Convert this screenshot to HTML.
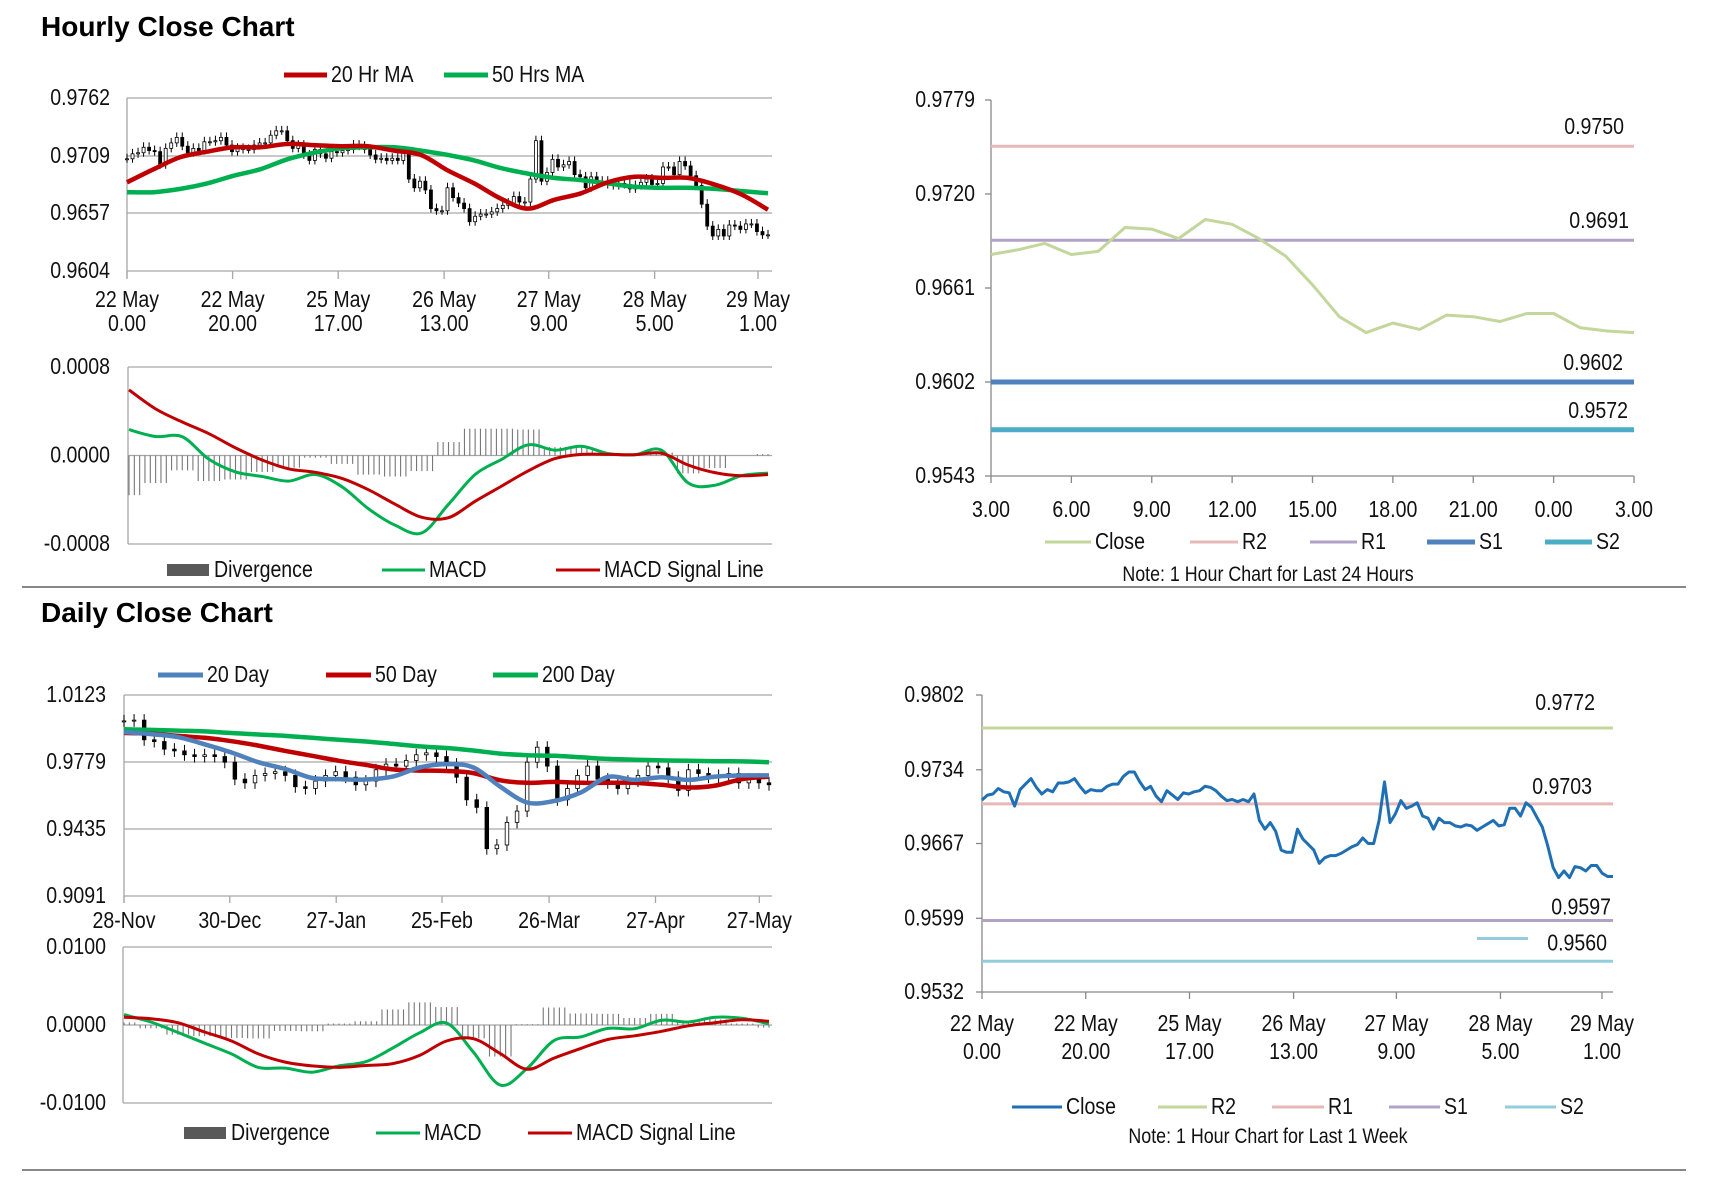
<!DOCTYPE html>
<html><head><meta charset="utf-8">
<style>
html,body{margin:0;padding:0;background:#fff;}
svg{display:block;font-family:"Liberation Sans Narrow","Liberation Sans",sans-serif;}
.t{font-size:23px;fill:#111;transform-box:fill-box;transform:scaleX(0.85);}
.t[text-anchor="start"]{transform-origin:left center;}
.t[text-anchor="middle"]{transform-origin:center center;}
.t[text-anchor="end"]{transform-origin:right center;}
.h{font-family:"Liberation Sans",sans-serif;font-weight:bold;font-size:28px;fill:#000;}
</style></head>
<body>
<svg id="s" width="1711" height="1178" viewBox="0 0 1711 1178" xmlns="http://www.w3.org/2000/svg">
<text class="h" x="41" y="36">Hourly Close Chart</text>
<text class="h" x="41" y="622">Daily Close Chart</text>
<line x1="22" y1="587" x2="1686" y2="587" stroke="#888" stroke-width="2"/>
<line x1="22" y1="1170" x2="1686" y2="1170" stroke="#888" stroke-width="2"/>
</svg>
<script>
// ===== Data =====
const weekClose=[.97065,.9711,.9712,.9717,.9714,.9713,.9701,.9716,.9721,.9726,.9718,.9712,.9716,.9714,.9722,.9722,.9723,.9726,.9719,.9713,.9716,.9715,.9715,.9719,.9721,.9721,.9728,.9732,.9732,.9723,.9716,.9719,.9710,.9705,.9715,.9711,.9707,.9713,.9712,.9714,.9715,.9719,.9718,.9715,.9710,.9706,.9707,.9705,.9707,.9705,.9712,.9688,.9680,.9686,.9678,.9661,.9659,.9659,.9680,.9671,.9666,.9661,.9649,.9654,.9656,.9656,.9658,.9661,.9664,.9666,.9672,.9667,.9667,.9688,.9723,.9686,.9694,.9706,.9699,.9701,.9704,.9692,.9690,.9680,.9690,.9686,.9686,.9683,.9682,.9684,.9683,.9679,.9682,.9685,.9688,.9683,.9684,.9699,.9699,.9692,.9704,.9700,.9691,.9682,.9665,.9645,.9636,.9642,.9636,.9646,.9645,.9642,.9647,.9647,.9640,.9637,.9637];
const weekTickLabels1=["22 May","22 May","25 May","26 May","27 May","28 May","29 May"];
const weekTickLabels2=["0.00","20.00","17.00","13.00","9.00","5.00","1.00"];
const weekTickFrac=[0,0.1645,0.329,0.494,0.657,0.822,0.983];
const weekYTicks=[0.9802,0.9734,0.9667,0.9599,0.9532];
const weekLevels=[0.9772,0.9703,0.9597,0.9560];
const weekLevelNames=["R2","R1","S1","S2"];

const ma20h=[.9685,.9697,.9708,.9713,.9717,.9717,.9720,.9719,.9718,.9718,.9714,.9710,.9696,.9684,.9670,.9661,.9669,.9675,.9685,.9690,.9689,.9689,.9683,.9674,.9660];
const ma50h=[.9676,.9676,.9679,.9684,.9691,.9697,.9706,.9712,.9716,.9717,.9717,.9714,.9710,.9705,.9698,.9693,.9689,.9687,.9684,.9681,.9680,.9680,.9679,.9677,.9675];
const hourYTicks=[0.9762,0.9709,0.9657,0.9604];
const macdH=[.000234,.000172,.000169,-.000034,-.000148,-.00019,-.000231,-.000172,-.000283,-.000483,-.000631,-.0007,-.000441,-.000172,-.000034,.000097,.000048,.000083,.000017,.000007,.000048,-.000248,-.000269,-.000183,-.000159];
const signalH=[.000593,.000421,.000303,.000197,.000069,-.000041,-.000121,-.000152,-.000207,-.00031,-.000441,-.000559,-.000562,-.000414,-.000276,-.000138,-.000028,.00001,.00001,.000007,.000021,-.000086,-.000155,-.000183,-.000172];
const macdHTicks=[0.0008,0,-0.0008];
const macdHTickLabels=["0.0008","0.0000","-0.0008"];

const dayHours=["3.00","6.00","9.00","12.00","15.00","18.00","21.00","0.00","3.00"];
const dayClose=[.9682,.9685,.9689,.9682,.9684,.9699,.9698,.9692,.9704,.9701,.9692,.9681,.9663,.9643,.9633,.9639,.9635,.9644,.9643,.9640,.9645,.9645,.9636,.9634,.9633];
const dayYTicks=[0.9779,0.9720,0.9661,0.9602,0.9543];
const dayLevels=[0.9750,0.9691,0.9602,0.9572];

const dailyClose=[.9990,.9994,.9893,.9884,.9845,.9836,.9816,.9807,.9816,.9807,.9778,.9691,.9672,.9710,.9720,.9729,.9710,.9652,.9643,.9681,.9710,.9729,.9701,.9662,.9681,.9739,.9768,.9758,.9787,.9816,.9826,.9807,.9768,.9701,.9585,.9546,.9334,.9353,.9469,.9527,.9778,.9855,.9758,.9585,.9643,.9710,.9758,.9691,.9672,.9643,.9681,.9710,.9758,.9749,.9701,.9633,.9739,.9720,.9701,.9710,.9720,.9672,.9691,.9672,.9662];
const ma20d=[.9932,.9922,.9907,.9870,.9828,.9778,.9743,.9697,.9691,.9689,.9704,.9751,.9768,.9751,.9652,.9571,.9579,.9623,.9702,.9687,.9701,.9687,.9704,.9710,.9710];
const ma50d=[.9928,.9924,.9913,.9903,.9886,.9863,.9836,.9811,.9785,.9764,.9741,.9735,.9733,.9722,.9685,.9672,.9677,.9672,.9672,.9672,.9662,.9648,.9658,.9691,.9704];
const ma200d=[.9947,.9944,.9940,.9936,.9928,.9920,.9913,.9903,.9893,.9884,.9872,.9859,.9851,.9838,.9822,.9814,.9811,.9803,.9795,.9791,.9787,.9785,.9783,.9782,.9778];
const dailyYTicks=[1.0123,0.9779,0.9435,0.9091];
const dailyXLabels=["28-Nov","30-Dec","27-Jan","25-Feb","26-Mar","27-Apr","27-May"];
const dailyTickFrac=[0,0.164,0.329,0.493,0.659,0.824,0.985];
const macdD=[.00133,.00038,-.00095,-.00233,-.00371,-.00543,-.00552,-.00605,-.00524,-.00471,-.00295,-.001,.00024,-.00348,-.00771,-.00557,-.002,-.00152,-.00043,-.00048,.00062,.00038,.001,.00086,.00014];
const signalD=[.001,.00081,.00029,-.0009,-.00205,-.00371,-.00476,-.00524,-.00543,-.00519,-.00495,-.0039,-.00205,-.00176,-.00367,-.00567,-.00424,-.003,-.00186,-.00138,-.00081,-.0001,.00029,.00067,.00048];
const macdDTicks=[0.01,0,-0.01];
const macdDTickLabels=["0.0100","0.0000","-0.0100"];

// ===== Helpers =====
const S=document.getElementById('s');
const NS="http://www.w3.org/2000/svg";
function mk(tag,attrs,parent){const e=document.createElementNS(NS,tag);for(const k in attrs)e.setAttribute(k,attrs[k]);(parent||S).appendChild(e);return e;}
function lin(d0,d1,r0,r1){return v=>r0+(v-d0)/(d1-d0)*(r1-r0);}
function txt(x,y,s,anchor,size,parent){const t=mk('text',{x:x,y:y,'text-anchor':anchor||'start',class:'t'},parent);if(size)t.style.fontSize=size+'px';t.textContent=s;return t;}
function grp(){return mk('g',{});}
function smoothPath(arr,xf,yf){
  const p=arr.map((v,i)=>[xf(i),yf(v)]);
  let d='M'+p[0][0].toFixed(1)+','+p[0][1].toFixed(1);
  for(let i=0;i<p.length-1;i++){
    const p0=p[i-1]||p[i],p1=p[i],p2=p[i+1],p3=p[i+2]||p2;
    const c1=[p1[0]+(p2[0]-p0[0])/6,p1[1]+(p2[1]-p0[1])/6];
    const c2=[p2[0]-(p3[0]-p1[0])/6,p2[1]-(p3[1]-p1[1])/6];
    d+=' C'+c1[0].toFixed(1)+','+c1[1].toFixed(1)+' '+c2[0].toFixed(1)+','+c2[1].toFixed(1)+' '+p2[0].toFixed(1)+','+p2[1].toFixed(1);
  }
  return d;
}
function pathFrom(arr,xf,yf){return arr.map((v,i)=>(i?'L':'M')+xf(i).toFixed(1)+','+yf(v).toFixed(1)).join(' ');}
function legendLine(g,x1,x2,y,color,w,label){
  const l=mk('line',{x1:x1,y1:y,x2:x2,y2:y,stroke:color,'stroke-width':w},g);
  
  
  const t=txt(x2+4,y+7,label,'start',null,g);
  
  
}

// ===== Hourly candle chart =====
(function(){
  const g=grp();
  
  
  const L=127,R=772,x0=127,x1=768;
  const y=lin(0.9762,0.9604,98,271);
  hourYTicks.forEach(v=>{
    const gl=mk('line',{x1:L,x2:R,y1:y(v),y2:y(v),stroke:'#a6a6a6','stroke-width':1.3},g);
    
    
    const t=txt(110,y(v)+7,v.toFixed(4),'end',null,g);
    
    
  });
  mk('line',{x1:L,x2:L,y1:98,y2:278,stroke:'#a6a6a6','stroke-width':1.3},g);
  const n=weekClose.length;
  const xi=lin(0,n-1,x0,x1);
  weekTickFrac.forEach((f,i)=>{
    const tx=127+f*(758-127)/0.983;
    mk('line',{x1:tx,x2:tx,y1:271,y2:279,stroke:'#a6a6a6','stroke-width':1.3},g);
    const a=txt(tx,307,weekTickLabels1[i],'middle',null,g);
    
    
    const b=txt(tx,331,weekTickLabels2[i],'middle',null,g);
    
    
  });
  weekClose.forEach((c,i)=>{
    const o=i?weekClose[i-1]:c;
    const top=y(Math.max(o,c)),bot=y(Math.min(o,c));
    const cx=xi(i);
    const w=mk('line',{x1:cx,x2:cx,y1:top-5,y2:bot+4,stroke:'#000','stroke-width':1},g);
    
    
    const r=mk('rect',{x:cx-1.5,y:top,width:3,height:Math.max(1,bot-top),fill:c<o?'#000':'#fff',stroke:'#000','stroke-width':0.8},g);
    
    
  });
  const mx=lin(0,ma20h.length-1,x0,x1);
  const p1=mk('path',{d:smoothPath(ma50h,mx,y),fill:'none',stroke:'#00b050','stroke-width':4.5,'stroke-linejoin':'round'},g);
  
  
  const p2=mk('path',{d:smoothPath(ma20h,mx,y),fill:'none',stroke:'#c00000','stroke-width':4.5,'stroke-linejoin':'round'},g);
  
  
  legendLine(g,284,327,75,'#c00000',5,'20 Hr MA');
  legendLine(g,444,488,75,'#00b050',5,'50 Hrs MA');
})();

// ===== MACD generic =====
function macdChart(name,macd,sig,ticks,labels,top,bot,L,R,x1,labX,legY,leg){
  const g=grp();
  
  
  const y=lin(ticks[0],ticks[2],top,bot);
  ticks.forEach((v,i)=>{
    if(i!==1){const gl=mk('line',{x1:L,x2:R,y1:y(v),y2:y(v),stroke:'#a6a6a6','stroke-width':1.3},g);
    
    }
    const t=txt(labX,y(v)+7,labels[i],'end',null,g);
    
    
  });
  mk('line',{x1:L,x2:L,y1:top,y2:bot,stroke:'#a6a6a6','stroke-width':1.3},g);
  mk('line',{x1:L,x2:R,y1:y(0),y2:y(0),stroke:'#a6a6a6','stroke-width':1.3},g);
  const x=lin(0,macd.length-1,L+1,x1);
  const step=(x1-L)/(macd.length-1);
  macd.forEach((m,i)=>{
    const d=m-sig[i];
    for(let k=-2;k<=2;k++){
      const bx=x(i)+k*step/5;
      if(bx<L+1||bx>x1)continue;
      const b=mk('line',{x1:bx,x2:bx,y1:y(0),y2:y(d),stroke:'#777','stroke-width':1.1},g);
      
      
    }
  });
  const pm=mk('path',{d:smoothPath(macd,x,y),fill:'none',stroke:'#00b050','stroke-width':3,'stroke-linejoin':'round'},g);
  
  
  const ps=mk('path',{d:smoothPath(sig,x,y),fill:'none',stroke:'#c00000','stroke-width':3,'stroke-linejoin':'round'},g);
  
  
  const box=mk('rect',{x:leg[0],y:legY-6,width:leg[1]-leg[0],height:12,fill:'#595959'},g);
  
  
  const t=txt(leg[1]+5,legY+7,'Divergence','start',null,g);
  
  
  legendLine(g,leg[2],leg[3],legY,'#00b050',3,'MACD');
  legendLine(g,leg[4],leg[5],legY,'#c00000',3,'MACD Signal Line');
}
macdChart('hourly-macd-chart',macdH,signalH,macdHTicks,macdHTickLabels,367,544,128,772,768,110,570,[167,209,382,425,556,600]);
macdChart('daily-macd-chart',macdD,signalD,macdDTicks,macdDTickLabels,947,1103,123,772,769,106,1133,[184,226,376,420,528,572]);

// ===== Daily candle chart =====
(function(){
  const g=grp();
  
  
  const L=124,R=772,x0=124,x1=769;
  const y=lin(1.0123,0.9091,695,896);
  dailyYTicks.forEach(v=>{
    const gl=mk('line',{x1:L,x2:R,y1:y(v),y2:y(v),stroke:'#a6a6a6','stroke-width':1.3},g);
    
    
    const t=txt(106,y(v)+7,v.toFixed(4),'end',null,g);
    
    
  });
  mk('line',{x1:L,x2:L,y1:695,y2:903,stroke:'#a6a6a6','stroke-width':1.3},g);
  dailyTickFrac.forEach((f,i)=>{
    const tx=x0+f*(x1-x0);
    mk('line',{x1:tx,x2:tx,y1:896,y2:903,stroke:'#a6a6a6','stroke-width':1.3},g);
    const a=txt(tx,928,dailyXLabels[i],'middle',null,g);
    
    
  });
  const xi=lin(0,dailyClose.length-1,x0,x1);
  dailyClose.forEach((c,i)=>{
    const o=i?dailyClose[i-1]:c;
    const top=y(Math.max(o,c)),bot=y(Math.min(o,c));
    const cx=xi(i);
    const w=mk('line',{x1:cx,x2:cx,y1:top-6,y2:bot+6,stroke:'#000','stroke-width':1},g);
    
    
    const r=mk('rect',{x:cx-1.8,y:top,width:3.6,height:Math.max(1,bot-top),fill:c<o?'#000':'#fff',stroke:'#000','stroke-width':0.8},g);
    
    
  });
  const mx=lin(0,ma20d.length-1,x0,x1);
  const a=mk('path',{d:smoothPath(ma200d,mx,y),fill:'none',stroke:'#00b050','stroke-width':4.5,'stroke-linejoin':'round'},g);
  
  
  const b=mk('path',{d:smoothPath(ma50d,mx,y),fill:'none',stroke:'#c00000','stroke-width':4.5,'stroke-linejoin':'round'},g);
  
  
  const c=mk('path',{d:smoothPath(ma20d,mx,y),fill:'none',stroke:'#4f81bd','stroke-width':4.5,'stroke-linejoin':'round'},g);
  
  
  legendLine(g,158,203,675,'#4f81bd',5,'20 Day');
  legendLine(g,326,371,675,'#c00000',5,'50 Day');
  legendLine(g,493,538,675,'#00b050',5,'200 Day');
})();

// ===== 24h pivot chart =====
(function(){
  const g=grp();
  
  
  const L=991,R=1634;
  const y=lin(0.9779,0.9543,100,476);
  mk('line',{x1:L,x2:L,y1:100,y2:476,stroke:'#888','stroke-width':1.3},g);
  mk('line',{x1:L,x2:R,y1:476,y2:476,stroke:'#888','stroke-width':1.3},g);
  dayYTicks.forEach(v=>{
    mk('line',{x1:L-6,x2:L,y1:y(v),y2:y(v),stroke:'#888','stroke-width':1.3},g);
    const t=txt(975,y(v)+7,v.toFixed(4),'end',null,g);
    
    
  });
  const x=lin(0,dayClose.length-1,L,R);
  dayHours.forEach((h,i)=>{
    const tx=x(i*3);
    mk('line',{x1:tx,x2:tx,y1:476,y2:483,stroke:'#888','stroke-width':1.3},g);
    const t=txt(tx,517,h,'middle',null,g);
    
    
  });
  const cols=['#e6b9b8','#b3a2c7','#4f81bd','#4bacc6'];
  const ws=[3,3,5,5];
  const names=['r2','r1','s1','s2'];
  const labR=[1624,1629,1623,1628];
  dayLevels.forEach((v,i)=>{
    const l=mk('line',{x1:L,x2:R,y1:y(v),y2:y(v),stroke:cols[i],'stroke-width':ws[i]},g);
    
    
    const t=txt(labR[i],y(v)-12,v.toFixed(4),'end',null,g);
    
    
  });
  const p=mk('path',{d:pathFrom(dayClose,x,y),fill:'none',stroke:'#c3d69b','stroke-width':3,'stroke-linejoin':'round'},g);
  
  
  legendLine(g,1045,1091,542,'#c3d69b',3,'Close');
  legendLine(g,1190,1238,542,'#e6b9b8',3,'R2');
  legendLine(g,1310,1357,542,'#b3a2c7',3,'R1');
  legendLine(g,1427,1475,542,'#4f81bd',5,'S1');
  legendLine(g,1545,1592,542,'#4bacc6',5,'S2');
  const n=txt(1268,581,'Note: 1 Hour Chart for Last 24 Hours','middle',21,g);
  
  
})();

// ===== Weekly pivot chart =====
(function(){
  const g=grp();
  
  
  const L=982,R=1613;
  const y=lin(0.9802,0.9532,695,992);
  mk('line',{x1:L,x2:L,y1:695,y2:992,stroke:'#888','stroke-width':1.3},g);
  mk('line',{x1:L,x2:R,y1:992,y2:992,stroke:'#888','stroke-width':1.3},g);
  weekYTicks.forEach(v=>{
    mk('line',{x1:L-6,x2:L,y1:y(v),y2:y(v),stroke:'#888','stroke-width':1.3},g);
    const t=txt(964,y(v)+7,v.toFixed(4),'end',null,g);
    
    
  });
  weekTickFrac.forEach((f,i)=>{
    const tx=L+f*(1602-L)/0.983;
    mk('line',{x1:tx,x2:tx,y1:992,y2:999,stroke:'#888','stroke-width':1.3},g);
    const a=txt(tx,1031,weekTickLabels1[i],'middle',null,g);
    
    
    const b=txt(tx,1059,weekTickLabels2[i],'middle',null,g);
    
    
  });
  const cols=['#c3d69b','#e6b9b8','#b3a2c7','#93cddd'];
  const labR=[1595,1592,1611,1607];
  const off=[-18,-10,-6,-10];
  weekLevels.forEach((v,i)=>{
    const l=mk('line',{x1:L,x2:R,y1:y(v),y2:y(v),stroke:cols[i],'stroke-width':3},g);
    
    
    const ty=i===3?y(weekLevels[2])+30:y(v)+off[i];
    const t=txt(labR[i],ty,v.toFixed(4),'end',null,g);
    
    
  });
  const dash=mk('line',{x1:1477,x2:1528,y1:y(weekLevels[2])+18,y2:y(weekLevels[2])+18,stroke:'#93cddd','stroke-width':3},g);
  
  
  const x=lin(0,weekClose.length-1,L,R);
  const p=mk('path',{d:pathFrom(weekClose,x,y),fill:'none',stroke:'#1f6fb5','stroke-width':3,'stroke-linejoin':'round'},g);
  
  
  legendLine(g,1012,1062,1107,'#1f6fb5',3,'Close');
  legendLine(g,1158,1207,1107,'#c3d69b',3,'R2');
  legendLine(g,1272,1324,1107,'#e6b9b8',3,'R1');
  legendLine(g,1389,1440,1107,'#b3a2c7',3,'S1');
  legendLine(g,1505,1556,1107,'#93cddd',3,'S2');
  const n=txt(1268,1143,'Note: 1 Hour Chart for Last 1 Week','middle',21,g);
  
  
})();
</script>
</body></html>
